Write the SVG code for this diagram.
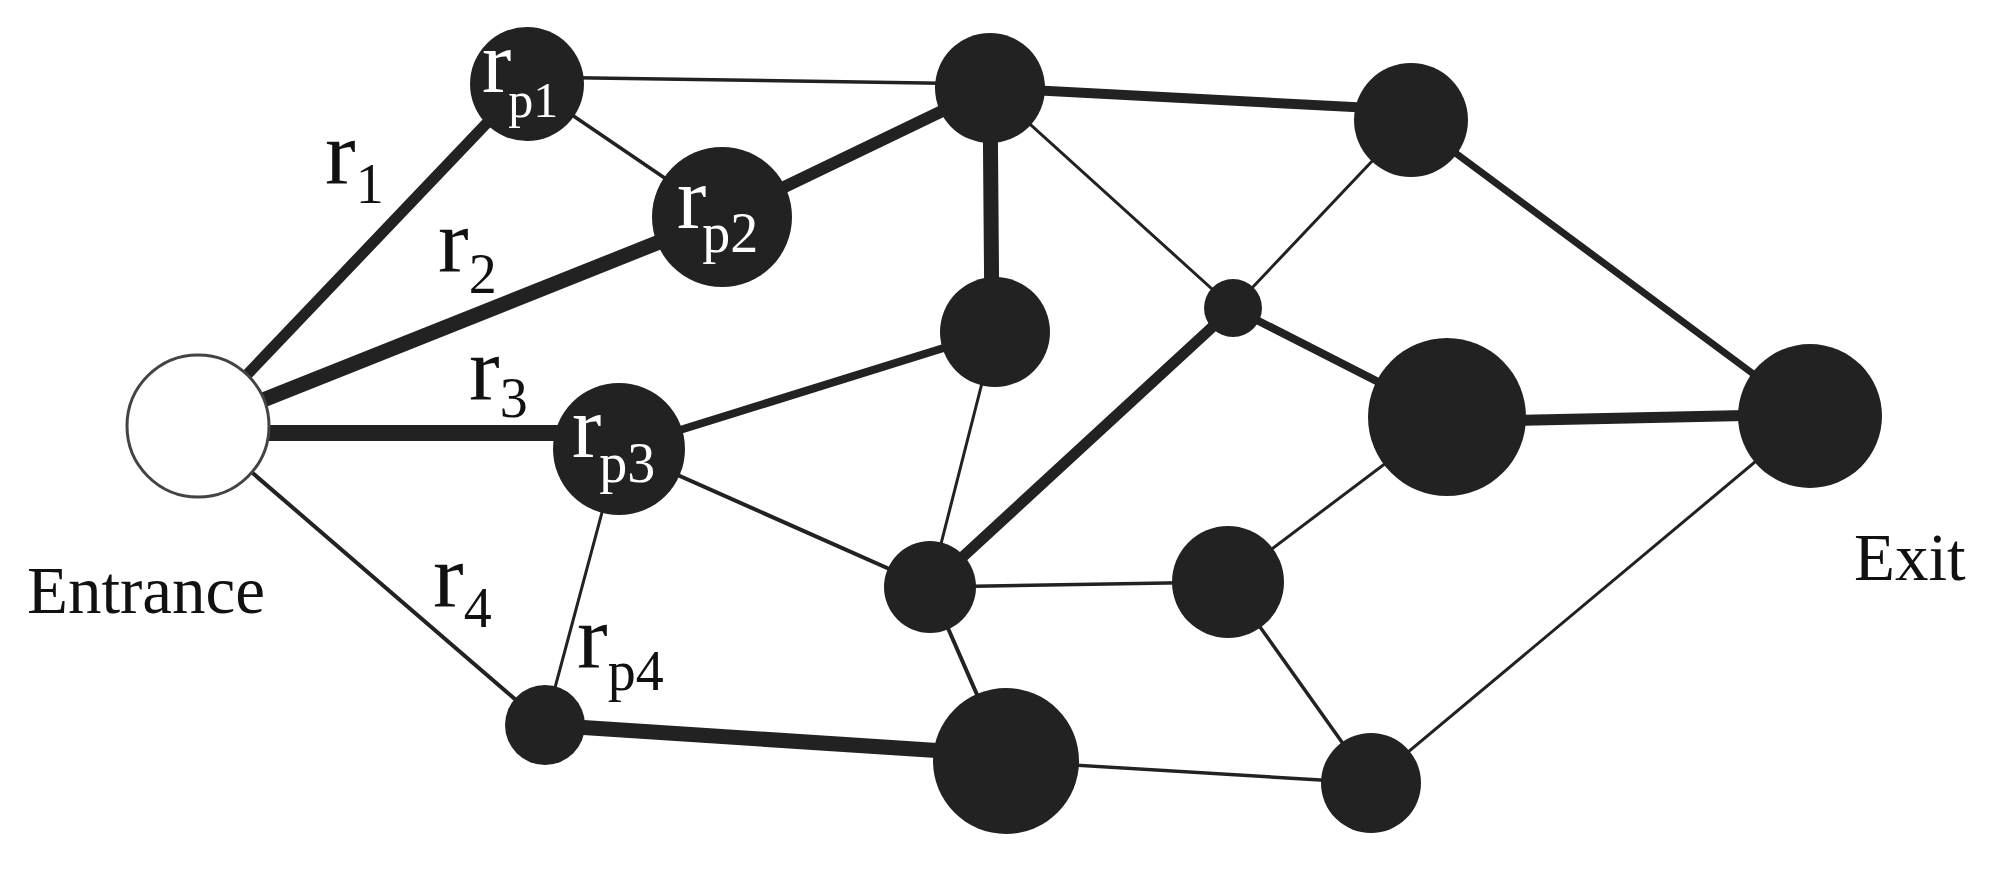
<svg xmlns="http://www.w3.org/2000/svg" width="1992" height="875" viewBox="0 0 1992 875">
<style>
.e{stroke:#222;stroke-linecap:round;fill:none}
.n{fill:#222}
.lbl{font-family:"Liberation Serif","Times New Roman",serif;fill:#111}
.in{font-family:"Liberation Serif","Times New Roman",serif;fill:#fff}
</style>
<rect width="1992" height="875" fill="#fff"/>
<g id="connectors">
<line class="e" x1="198" y1="426" x2="525" y2="83" stroke-width="11"/>
<line class="e" x1="198" y1="426" x2="722" y2="217" stroke-width="15"/>
<line class="e" x1="198" y1="433" x2="619" y2="433" stroke-width="16"/>
<line class="e" x1="198" y1="426" x2="545" y2="725" stroke-width="4"/>
<line class="e" x1="525" y1="77" x2="990" y2="84" stroke-width="3.5"/>
<line class="e" x1="525" y1="83" x2="722" y2="217" stroke-width="3.5"/>
<line class="e" x1="722" y1="217" x2="990" y2="88" stroke-width="12"/>
<line class="e" x1="990" y1="88" x2="1411" y2="110" stroke-width="10"/>
<line class="e" x1="990" y1="88" x2="992" y2="332" stroke-width="15"/>
<line class="e" x1="990" y1="88" x2="1233" y2="308" stroke-width="3"/>
<line class="e" x1="619" y1="449" x2="995" y2="332" stroke-width="8"/>
<line class="e" x1="619" y1="449" x2="930" y2="587" stroke-width="4"/>
<line class="e" x1="619" y1="449" x2="545" y2="725" stroke-width="3"/>
<line class="e" x1="995" y1="332" x2="930" y2="587" stroke-width="3"/>
<line class="e" x1="1233" y1="308" x2="1411" y2="120" stroke-width="3"/>
<line class="e" x1="1233" y1="308" x2="930" y2="587" stroke-width="11"/>
<line class="e" x1="1233" y1="308" x2="1447" y2="417" stroke-width="8"/>
<line class="e" x1="1411" y1="120" x2="1810" y2="416" stroke-width="7"/>
<line class="e" x1="1447" y1="422" x2="1810" y2="414" stroke-width="11"/>
<line class="e" x1="930" y1="587" x2="1228" y2="582" stroke-width="3.5"/>
<line class="e" x1="1228" y1="582" x2="1447" y2="417" stroke-width="3"/>
<line class="e" x1="1228" y1="582" x2="1371" y2="783" stroke-width="3.5"/>
<line class="e" x1="930" y1="587" x2="1006" y2="761" stroke-width="4"/>
<line class="e" x1="545" y1="725" x2="1006" y2="755" stroke-width="15"/>
<line class="e" x1="1006" y1="761" x2="1371" y2="783" stroke-width="3.5"/>
<line class="e" x1="1371" y1="783" x2="1810" y2="416" stroke-width="3"/>
</g>
<g id="entrance"><circle cx="198" cy="426" r="71" fill="#fff" stroke="#444" stroke-width="3"/></g>
<g id="rp1"><circle class="n" cx="527" cy="84" r="57"/><text class="in" x="482" y="92" font-size="88">r<tspan font-size="50" dx="-3" dy="25">p1</tspan></text></g>
<g id="rp2"><circle class="n" cx="722" cy="217" r="70"/><text class="in" x="677" y="228" font-size="88">r<tspan font-size="56" dx="-4" dy="24">p2</tspan></text></g>
<g id="rp3"><circle class="n" cx="619" cy="449" r="66"/><text class="in" x="572" y="457" font-size="88">r<tspan font-size="56" dx="-2" dy="25">p3</tspan></text></g>
<g id="n_topmid"><circle class="n" cx="990" cy="88" r="55"/></g>
<g id="n_topright"><circle class="n" cx="1411" cy="120" r="57"/></g>
<g id="n_mid"><circle class="n" cx="995" cy="332" r="55"/></g>
<g id="n_small"><circle class="n" cx="1233" cy="308" r="29"/></g>
<g id="n_big"><circle class="n" cx="1447" cy="417" r="79"/></g>
<g id="exit"><circle class="n" cx="1810" cy="416" r="72"/></g>
<g id="n_a"><circle class="n" cx="930" cy="587" r="46"/></g>
<g id="n_b"><circle class="n" cx="1228" cy="582" r="56"/></g>
<g id="n_bsmall"><circle class="n" cx="545" cy="725" r="40"/></g>
<g id="n_bbig"><circle class="n" cx="1006" cy="761" r="73"/></g>
<g id="n_bright"><circle class="n" cx="1371" cy="783" r="50"/></g>
<g id="labels">
<text class="lbl" x="325" y="184" font-size="92">r<tspan font-size="56" dy="19">1</tspan></text>
<text class="lbl" x="438" y="272" font-size="92">r<tspan font-size="56" dy="21">2</tspan></text>
<text class="lbl" x="469" y="400" font-size="92">r<tspan font-size="56" dy="17">3</tspan></text>
<text class="lbl" x="433" y="607" font-size="92">r<tspan font-size="56" dy="20">4</tspan></text>
<text class="lbl" x="577" y="668" font-size="92">r<tspan font-size="56" dy="22">p4</tspan></text>
<text class="lbl" x="27" y="613" font-size="67">Entrance</text>
<text class="lbl" x="1854" y="580" font-size="67">Exit</text>
</g>
</svg>
